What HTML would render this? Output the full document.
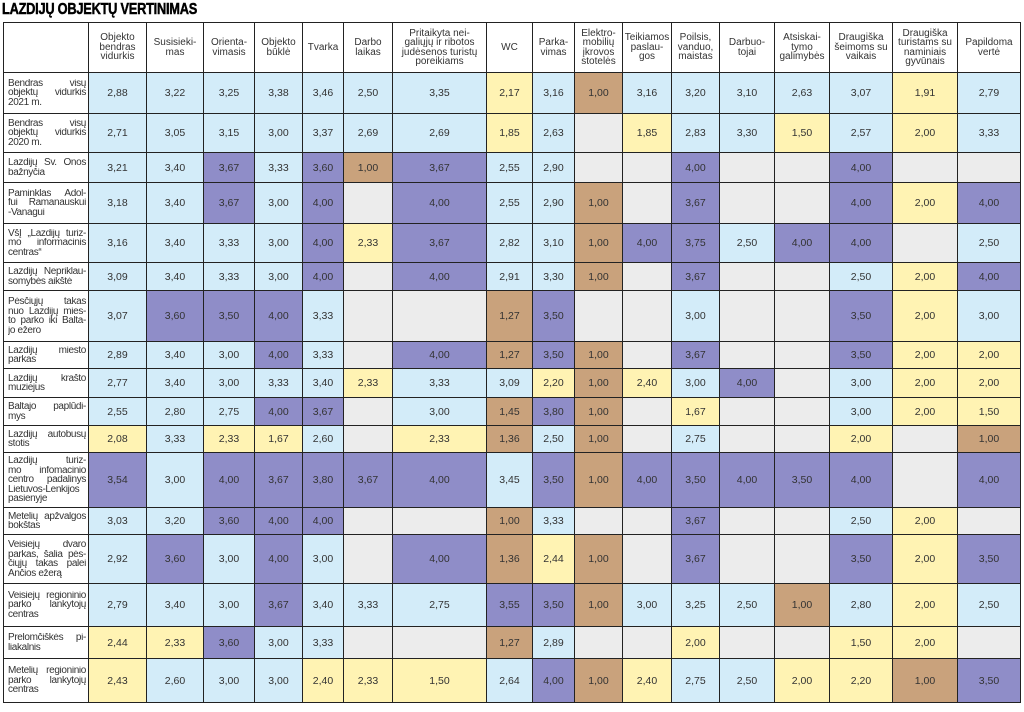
<!DOCTYPE html>
<html><head><meta charset="utf-8"><style>
body{margin:0;width:1024px;height:712px;background:#fff;position:relative;overflow:hidden;font-family:"Liberation Sans",Arial,sans-serif}
h1{position:absolute;left:2px;top:1px;margin:0;font-size:16px;font-weight:900;letter-spacing:-0.3px;color:#000;transform:scaleX(0.8);transform-origin:left;-webkit-text-stroke:0.5px #000}
table{position:absolute;left:3px;top:22px;border-collapse:collapse;table-layout:fixed;width:1017px}
td,th{border:1.5px solid #222;padding:0;text-align:center;font-size:10.5px;color:#333;overflow:hidden}
th{font-weight:normal;font-size:10px;line-height:9.5px;color:#333}
td.n{text-align:left;font-size:10px;letter-spacing:-0.35px;line-height:9.5px;padding:0 2px 0 4px;background:#fff;vertical-align:middle;white-space:nowrap}
td.n span{display:block;overflow:hidden}
td.n span.j{text-align:justify;text-align-last:justify}
.b{background:#d3ecf9}.p{background:#8f8dc8}.y{background:#fff3b3}.r{background:#c9a27c}.g{background:#ececec}
</style></head><body>
<h1>LAZDIJŲ OBJEKTŲ VERTINIMAS</h1>
<table>
<colgroup><col style="width:85px"><col style="width:58px"><col style="width:57px"><col style="width:51px"><col style="width:48px"><col style="width:41px"><col style="width:49px"><col style="width:94px"><col style="width:46px"><col style="width:42px"><col style="width:48px"><col style="width:49px"><col style="width:48px"><col style="width:55px"><col style="width:55px"><col style="width:63px"><col style="width:65px"><col style="width:63px"></colgroup>
<tr style="height:50px"><th></th><th>Objekto bendras vidurkis</th><th>Susisieki-<br>mas</th><th>Orienta-<br>vimasis</th><th>Objekto būklė</th><th>Tvarka</th><th>Darbo laikas</th><th>Pritaikyta nei-<br>galiųjų ir ribotos judėsenos turistų poreikiams</th><th>WC</th><th>Parka-<br>vimas</th><th>Elektro-<br>mobilių įkrovos stotelės</th><th>Teikiamos paslau-<br>gos</th><th>Poilsis, vanduo, maistas</th><th>Darbuo-<br>tojai</th><th>Atsiskai-<br>tymo galimybės</th><th>Draugiška šeimoms su vaikais</th><th>Draugiška turistams su naminiais gyvūnais</th><th>Papildoma vertė</th></tr>
<tbody id="tb"></tbody>
</table>
<script>
var rows=[
[41,"Bendras visų|objektų vidurkis|2021 m.","2,88 3,22 3,25 3,38 3,46 2,50 3,35 2,17 3,16 1,00 3,16 3,20 3,10 2,63 3,07 1,91 2,79"],
[39,"Bendras visų|objektų vidurkis|2020 m.","2,71 3,05 3,15 3,00 3,37 2,69 2,69 1,85 2,63 _ 1,85 2,83 3,30 1,50 2,57 2,00 3,33"],
[30,"Lazdijų Šv. Onos|bažnyčia","3,21 3,40 3,67 3,33 3,60 1,00 3,67 2,55 2,90 _ _ 4,00 _ _ 4,00 _ _"],
[41,"Paminklas Adol-|fui Ramanauskui|-Vanagui","3,18 3,40 3,67 3,00 4,00 _ 4,00 2,55 2,90 1,00 _ 3,67 _ _ 4,00 2,00 4,00"],
[39,"VšĮ „Lazdijų turiz-|mo informacinis|centras“","3,16 3,40 3,33 3,00 4,00 2,33 3,67 2,82 3,10 1,00 4,00 3,75 2,50 4,00 4,00 _ 2,50"],
[28,"Lazdijų Nepriklau-|somybės aikštė","3,09 3,40 3,33 3,00 4,00 _ 4,00 2,91 3,30 1,00 _ 3,67 _ _ 2,50 2,00 4,00"],
[51,"Pėsčiųjų takas|nuo Lazdijų mies-|to parko iki Balta-|jo ežero","3,07 3,60 3,50 4,00 3,33 _ _ 1,27 3,50 _ _ 3,00 _ _ 3,50 2,00 3,00"],
[27,"Lazdijų miesto|parkas","2,89 3,40 3,00 4,00 3,33 _ 4,00 1,27 3,50 1,00 _ 3,67 _ _ 3,50 2,00 2,00"],
[29,"Lazdijų krašto|muziejus","2,77 3,40 3,00 3,33 3,40 2,33 3,33 3,09 2,20 1,00 2,40 3,00 4,00 _ 3,00 2,00 2,00"],
[28,"Baltajo paplūdi-|mys","2,55 2,80 2,75 4,00 3,67 _ 3,00 1,45 3,80 1,00 _ 1,67 _ _ 3,00 2,00 1,50"],
[27,"Lazdijų autobusų|stotis","2,08 3,33 2,33 1,67 2,60 _ 2,33 1,36 2,50 1,00 _ 2,75 _ _ 2,00 _ 1,00"],
[55,"Lazdijų turiz-|mo infomacinio|centro padalinys|Lietuvos-Lenkijos|pasienyje","3,54 3,00 4,00 3,67 3,80 3,67 4,00 3,45 3,50 1,00 4,00 3,50 4,00 3,50 4,00 _ 4,00"],
[27,"Metelių apžvalgos|bokštas","3,03 3,20 3,60 4,00 4,00 _ _ 1,00 3,33 _ _ 3,67 _ _ 2,50 2,00 _"],
[49,"Veisiejų dvaro|parkas, šalia pės-|čiųjų takas palei|Ančios ežerą","2,92 3,60 3,00 4,00 3,00 _ 4,00 1,36 2,44 1,00 _ 3,67 _ _ 3,50 2,00 3,50"],
[43,"Veisiejų regioninio|parko lankytojų|centras","2,79 3,40 3,00 3,67 3,40 3,33 2,75 3,55 3,50 1,00 3,00 3,25 2,50 1,00 2,80 2,00 2,50"],
[32,"Prelomčiškės pi-|liakalnis","2,44 2,33 3,60 3,00 3,33 _ _ 1,27 2,89 _ _ 2,00 _ _ 1,50 2,00 _"],
[44,"Metelių regioninio|parko lankytojų|centras","2,43 2,60 3,00 3,00 2,40 2,33 1,50 2,64 4,00 1,00 2,40 2,75 2,50 2,00 2,20 1,00 3,50"]];
var h="";
rows.forEach(function(r){
var ls=r[1].split("|"),nm="";
ls.forEach(function(l,i){nm+='<span'+(i<ls.length-1?' class="j"':'')+'>'+l+'</span>';});
h+='<tr style="height:'+r[0]+'px"><td class="n">'+nm+'</td>';
r[2].split(" ").forEach(function(v){if(v=="_"){h+='<td class="g"></td>';return;}
var x=parseFloat(v.replace(",",".")),c=x<1.5?"r":x<2.5?"y":x<3.5?"b":"p";h+='<td class="'+c+'">'+v+'</td>';});h+='</tr>';});
document.getElementById("tb").innerHTML=h;
</script>
</body></html>
